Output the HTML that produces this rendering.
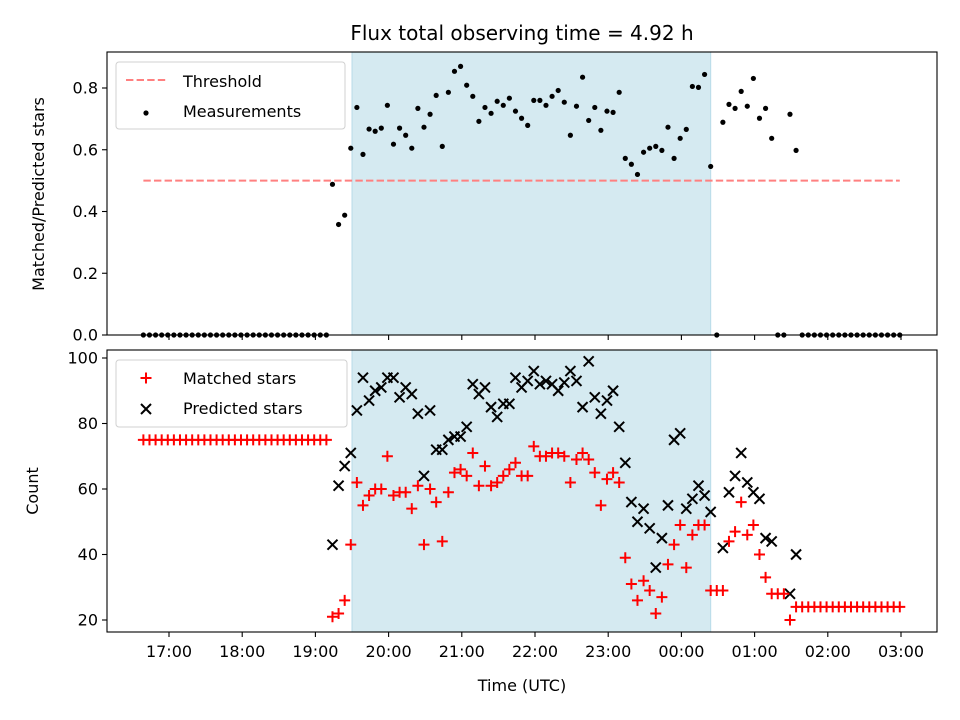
<!DOCTYPE html>
<html><head><meta charset="utf-8"><style>
html,body{margin:0;padding:0;background:#fff;}
svg{display:block;font-family:"DejaVu Sans","Liberation Sans",sans-serif;}
</style></head><body>
<svg id="chart" width="960" height="720" viewBox="0 0 960 720" xmlns="http://www.w3.org/2000/svg"></svg>
<script>
const xTickLabels = ["17:00","18:00","19:00","20:00","21:00","22:00","23:00","00:00","01:00","02:00","03:00"];
const topTicks = [0.0,0.2,0.4,0.6,0.8];
const botTicks = [20,40,60,80,100];
const startMinutes = -21; // minutes relative to 17:00 of first sample
const stepMinutes = 5;
const threshold = 0.5;
const spanStart = 150; // minutes after 17:00 (19:30)
const spanEnd = 444;   // minutes after 17:00
const ratio = [0,0,0,0,0,0,0,0,0,0,0,0,0,0,0,0,0,0,0,0,0,0,0,0,0,0,0,0,0,0,0,
0.488,0.358,0.388,0.605,0.737,0.585,0.667,0.66,0.67,0.744,
0.618,0.67,0.647,0.605,0.734,0.673,0.715,0.776,0.611,0.786,
0.854,0.870,0.809,0.773,0.692,0.737,0.718,0.757,0.744,0.767,
0.725,0.702,0.679,0.760,0.760,0.744,0.773,0.792,0.754,0.647,
0.741,0.835,0.695,0.737,0.663,0.725,0.721,0.786,0.572,0.553,
0.520,0.592,0.605,0.611,0.598,0.673,0.572,0.637,0.666,0.805,
0.802,0.844,0.546,0,0.689,0.747,0.734,0.789,0.741,0.831,
0.702,0.734,0.637,0,0,0.715,0.598,
0,0,0,0,0,0,0,0,0,0,0,0,0,0,0,0,0];
const matched = [75,75,75,75,75,75,75,75,75,75,75,75,75,75,75,75,75,75,75,75,75,75,75,75,75,75,75,75,75,75,75,
21,22,26,43,62,55,58,60,60,70,
58,59,59,54,61,43,60,56,44,59,
65,66,64,71,61,67,61,62,64,66,
68,64,64,73,70,70,71,71,70,62,
69,71,69,65,55,63,65,62,39,31,
26,32,29,22,27,37,43,49,36,46,
49,49,29,29,29,44,47,56,46,49,
40,33,28,28,28,20,24,
24,24,24,24,24,24,24,24,24,24,24,24,24,24,24,24,24];
const predicted = [null,null,null,null,null,null,null,null,null,null,null,null,null,null,null,null,null,null,null,null,null,null,null,null,null,null,null,null,null,null,null,
43,61,67,71,84,94,87,90,91,94,
94,88,91,89,83,64,84,72,72,75,
76,76,79,92,89,91,85,82,86,86,
94,91,93,96,92,93,92,90,92.5,96,
93,85,99,88,83,87,90,79,68,56,
50,54,48,36,45,55,75,77,54,57,
61,58,53,null,42,59,64,71,62,59,
57,45,44,null,null,28,40,
null,null,null,null,null,null,null,null,null,null,null,null,null,null,null,null,null];

const NS="http://www.w3.org/2000/svg";
const svg=document.getElementById('chart');
function el(tag,attrs,parent,text){const e=document.createElementNS(NS,tag);for(const k in attrs)e.setAttribute(k,attrs[k]);if(text!==undefined)e.textContent=text;(parent||svg).appendChild(e);return e;}
const L=107,R=937;
const T1=52,B1=335,T2=350,B2=632;
function xs(min){return 169+min*73.2/60;}
function y1(v){return 335-v*308.75;}
function y2(v){return 358+(100-v)*3.275;}
function tMin(i){return startMinutes+i*stepMinutes;}

const title=el('text',{x:522,y:40,'font-size':'20','text-anchor':'middle',fill:'#000'},svg,'Flux total observing time = 4.92 h');



[[T1,B1,'top-observing-span'],[T2,B2,'bottom-observing-span']].forEach(([t,b,n])=>{
  const r=el('rect',{x:xs(spanStart),y:t,width:xs(spanEnd)-xs(spanStart),height:b-t,fill:'#d5eaf1',stroke:'#b8dbe8','stroke-width':1});
  
  
});

const th=el('line',{x1:xs(tMin(0)),x2:xs(tMin(ratio.length-1)),y1:y1(threshold),y2:y1(threshold),stroke:'#ff8080','stroke-width':2,'stroke-dasharray':'7.4,3.2'});



const gm=el('g',{});


ratio.forEach((v,i)=>{ if(v===null)return;
  const c=el('circle',{cx:xs(tMin(i)),cy:y1(v),r:2.6,fill:'#000'},gm);
  
  
});

const gp=el('g',{stroke:'#000','stroke-width':2});


predicted.forEach((v,i)=>{ if(v===null)return;
  const x=xs(tMin(i)),y=y2(v),s=5;
  const p=el('path',{d:`M${x-s},${y-s}L${x+s},${y+s}M${x-s},${y+s}L${x+s},${y-s}`},gp);
  
  
});
const gr=el('g',{stroke:'#ff0000','stroke-width':2});


matched.forEach((v,i)=>{ if(v===null)return;
  const x=xs(tMin(i)),y=y2(v),s=5.5;
  const p=el('path',{d:`M${x-s},${y}L${x+s},${y}M${x},${y-s}L${x},${y+s}`},gr);
  
  
});

[[T1,B1,'top-axes-frame'],[T2,B2,'bottom-axes-frame']].forEach(([t,b,n])=>{
  const r=el('rect',{x:L,y:t,width:R-L,height:b-t,fill:'none',stroke:'#000','stroke-width':1.1});
  
  
});

xTickLabels.forEach((lab,i)=>{
  const x=xs(i*60);
  el('line',{x1:x,x2:x,y1:B1,y2:B1+5,stroke:'#000','stroke-width':1.1});
  el('line',{x1:x,x2:x,y1:B2,y2:B2+5,stroke:'#000','stroke-width':1.1});
  const t=el('text',{x:x,y:B2+25,'font-size':'16','text-anchor':'middle'},svg,lab);
  
  
});
topTicks.forEach(v=>{
  const y=y1(v);
  el('line',{x1:L-5,x2:L,y1:y,y2:y,stroke:'#000','stroke-width':1.1});
  const t=el('text',{x:L-9,y:y+5.5,'font-size':'16','text-anchor':'end'},svg,v.toFixed(1));
  
  
});
botTicks.forEach(v=>{
  const y=y2(v);
  el('line',{x1:L-5,x2:L,y1:y,y2:y,stroke:'#000','stroke-width':1.1});
  const t=el('text',{x:L-9,y:y+5.5,'font-size':'16','text-anchor':'end'},svg,String(v));
  
  
});

const xt=el('text',{x:522,y:691,'font-size':'16','text-anchor':'middle'},svg,'Time (UTC)');


const yt1=el('text',{x:0,y:0,'font-size':'16','text-anchor':'middle',transform:'translate(44,194) rotate(-90)'},svg,'Matched/Predicted stars');


const yt2=el('text',{x:0,y:0,'font-size':'16','text-anchor':'middle',transform:'translate(38,491) rotate(-90)'},svg,'Count');



const lg1=el('g',{});


el('rect',{x:116,y:62,width:229,height:67,rx:3,fill:'#fff','fill-opacity':0.8,stroke:'#d0d0d0'},lg1);
el('line',{x1:126,x2:166,y1:80,y2:80,stroke:'#ff8080','stroke-width':2,'stroke-dasharray':'7.4,3.2'},lg1);
const l1=el('text',{x:183,y:87,'font-size':'16'},lg1,'Threshold');


el('circle',{cx:146,cy:113,r:2.6,fill:'#000'},lg1);
const l2=el('text',{x:183,y:117,'font-size':'16'},lg1,'Measurements');



const lg2=el('g',{});


el('rect',{x:116,y:360,width:231,height:67,rx:3,fill:'#fff','fill-opacity':0.8,stroke:'#d0d0d0'},lg2);
el('path',{d:'M140.5,378L151.5,378M146,372.5L146,383.5',stroke:'#ff0000','stroke-width':2},lg2);
const l3=el('text',{x:183,y:384,'font-size':'16'},lg2,'Matched stars');


el('path',{d:'M141,404L151,414M141,414L151,404',stroke:'#000','stroke-width':2},lg2);
const l4=el('text',{x:183,y:414,'font-size':'16'},lg2,'Predicted stars');


</script>
</body></html>
